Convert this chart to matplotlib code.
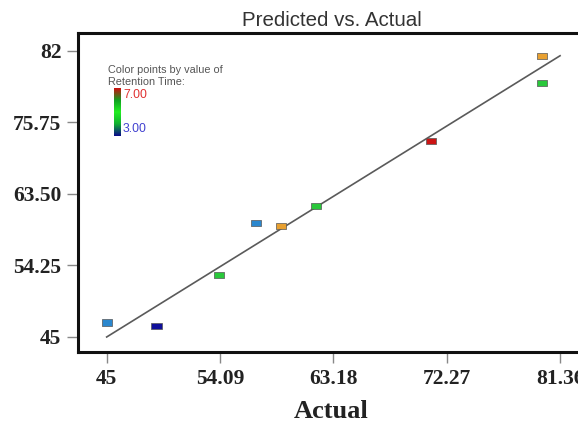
import matplotlib
matplotlib.use("Agg")
import matplotlib.pyplot as plt
import numpy as np
from matplotlib.colors import LinearSegmentedColormap

# Data
actual = [45.0, 49.0, 54.0, 57.0, 59.0, 61.8, 71.0, 79.9, 79.9]
predicted = [46.9, 46.4, 53.0, 59.75, 59.35, 61.95, 70.35, 81.35, 77.85]
retention = [3.9, 3.0, 5.0, 3.9, 6.2, 5.0, 7.0, 6.2, 5.0]

xticks = [45, 54.09, 63.18, 72.27, 81.36]
xticklabels = ["45", "54.09", "63.18", "72.27", "81.36"]
yticks = [45, 54.25, 63.5, 72.75, 82]
yticklabels = ["45", "54.25", "63.50", "75.75", "82"]
fit_line = [45, 81.36]

cmap = LinearSegmentedColormap.from_list(
    "rt", [(0.0, "#10109a"), (0.22, "#2a86d0"), (0.5, "#28c83a"),
           (0.8, "#e8a030"), (1.0, "#cc1414")])

W, H = 578, 426
fig = plt.figure(figsize=(W / 100, H / 100), dpi=100)
left, right, bottom, top = 78, 588, 352, 33
ax = fig.add_axes([left / W, 1 - bottom / H, (right - left) / W, (bottom - top) / H])

ax.set_xlim(42.7, 83.6)
ax.set_ylim(43.06, 84.3)

rect = [(-1.6, -1), (1.6, -1), (1.6, 1), (-1.6, 1), (-1.6, -1)]
ax.plot(fit_line, fit_line, color="#5a5a5a", lw=1.2, zorder=2)
ax.scatter(actual, predicted, c=retention, cmap=cmap, vmin=3, vmax=7,
           marker=rect, s=55, edgecolors="#555555", linewidths=0.5,
           zorder=3, clip_on=False)

ax.set_xticks(xticks)
ax.set_xticklabels(xticklabels)
ax.set_yticks(yticks)
ax.set_yticklabels(yticklabels)
for lab in ax.get_xticklabels() + ax.get_yticklabels():
    lab.set_fontfamily("Liberation Serif")
    lab.set_fontweight("bold")
    lab.set_fontsize(15.5)
    lab.set_color("#222222")
ax.tick_params(axis="both", direction="out", length=8, width=1, color="#888888", pad=4)

for s in ["left", "bottom", "top"]:
    ax.spines[s].set_linewidth(2.2)
    ax.spines[s].set_color("#111111")
ax.spines["right"].set_visible(False)

ax.set_xlabel("Actual", fontfamily="Liberation Serif", fontweight="bold",
              fontsize=19, color="#222222")
ax.xaxis.label.set_va("center")
ax.xaxis.set_label_coords((331 - left) / (right - left), -(412 - bottom) / (bottom - top))

fig.text(332 / W, 1 - 20 / H, "Predicted vs. Actual", ha="center", va="center",
         fontfamily="Liberation Sans", fontsize=14.8, color="#333333")

# Legend inset
fig.text(108 / W, 1 - 70 / H, "Color points by value of", ha="left", va="center",
         fontfamily="Liberation Sans", fontsize=7.8, color="#555555")
fig.text(108 / W, 1 - 82 / H, "Retention Time:", ha="left", va="center",
         fontfamily="Liberation Sans", fontsize=7.8, color="#555555")
cax = fig.add_axes([114 / W, 1 - 136 / H, 7 / W, 48 / H])
grad = np.linspace(0, 1, 100).reshape(-1, 1)
cax.imshow(grad, cmap=LinearSegmentedColormap.from_list(
    "cb", ["#0a0a8a", "#10b030", "#22ee22", "#10a020", "#cc1010"]),
    aspect="auto", origin="lower")
cax.set_axis_off()
fig.text(123 / W, 1 - 95 / H, "7.00", ha="left", va="center",
         fontfamily="Liberation Sans", fontsize=8.8, color="#e03030")
fig.text(123 / W, 1 - 129 / H, "3.00", ha="left", va="center",
         fontfamily="Liberation Sans", fontsize=8.8, color="#4040d0")

fig.savefig("out.png", dpi=100)
